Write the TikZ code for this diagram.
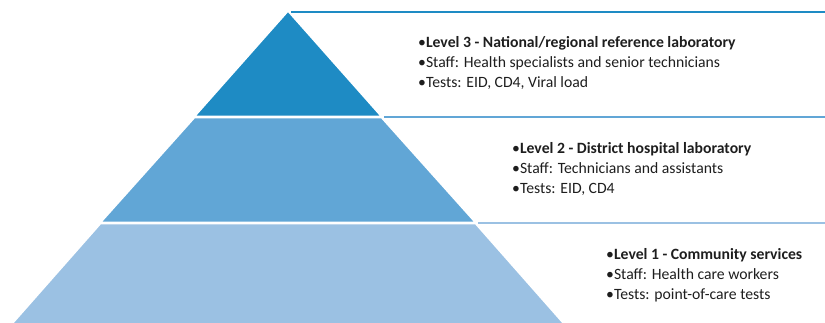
\documentclass[tikz,border=0pt]{standalone}
\usepackage{fontspec}
\setmainfont{Carlito}
\definecolor{tierthree}{RGB}{30,139,196}
\definecolor{tiertwo}{RGB}{97,166,214}
\definecolor{tierone}{RGB}{155,193,227}
\definecolor{txt}{RGB}{30,30,30}
\tikzset{
  tier/.style={draw=white, line width=1.6pt, line join=miter},
  rule/.style={line width=2pt},
  info/.style={anchor=west, inner sep=0pt, align=left, text=txt,
    font=\fontsize{15.7}{20}\selectfont}
}
\begin{document}
\begin{tikzpicture}[x=1pt,y=-1pt]
\useasboundingbox (0,0) rectangle (825,322);
% pyramid tiers
\draw[tier, fill=tierthree] (288,11) -- (381.5,116.5) -- (194.5,116.5) -- cycle;
\draw[tier, fill=tiertwo] (194.5,117.5) -- (381.5,117.5) -- (475.5,222.5) -- (100.5,222.5) -- cycle;
\draw[tier, fill=tierone] (100.5,223.5) -- (475.5,223.5) -- (565,325) -- (11,325) -- cycle;
% rules
\coordinate (r3a) at (291,12);  \coordinate (r3b) at (825,12);
\coordinate (r2a) at (384,116.5); \coordinate (r2b) at (825,116.5);
\coordinate (r1a) at (478,222.5); \coordinate (r1b) at (825,222.5);
\draw[rule, tierthree] (r3a) -- (r3b);
\draw[rule, tiertwo] (r2a) -- (r2b);
\draw[rule, tierone] (r1a) -- (r1b);
% texts
\node[info] (t3) at (418,63) {•\textbf{Level 3 - National/regional reference laboratory}\\•Staff: Health specialists and senior technicians\\•Tests: EID, CD4, Viral load};
\node[info] (t2) at (512,169) {•\textbf{Level 2 - District hospital laboratory}\\•Staff: Technicians and assistants\\•Tests: EID, CD4};
\node[info] (t1) at (606,275) {•\textbf{Level 1 - Community services}\\•Staff: Health care workers\\•Tests: point-of-care tests};
\end{tikzpicture}
\end{document}
